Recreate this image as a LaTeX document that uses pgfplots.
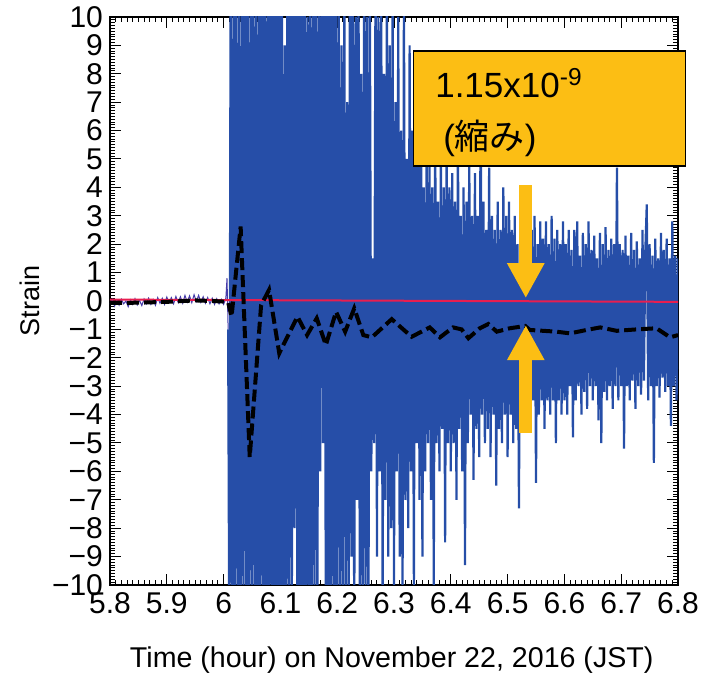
\documentclass[border=0pt]{standalone}
\usepackage{fontspec}
\setmainfont{Liberation Sans}
\newfontfamily\cjk{Noto Sans CJK JP}
\usepackage{pgfplots}
\pgfplotsset{compat=1.18}
\usetikzlibrary{calc,arrows.meta}
\definecolor{SigBlue}{RGB}{38,78,168}
\definecolor{PreBlue}{RGB}{70,60,170}
\definecolor{TideRed}{RGB}{232,30,80}
\definecolor{NoteOrange}{RGB}{252,190,20}

\begin{document}
\begin{tikzpicture}
\begin{axis}[
    scale only axis,
    width=284pt, height=284pt,
    xmin=5.8, xmax=6.8, ymin=-10, ymax=10,
    xtick={5.8,5.9,6.0,6.1,6.2,6.3,6.4,6.5,6.6,6.7,6.8},
    xticklabels={5.8,5.9,6,6.1,6.2,6.3,6.4,6.5,6.6,6.7,6.8},
    ytick={-10,-9,-8,-7,-6,-5,-4,-3,-2,-1,0,1,2,3,4,5,6,7,8,9,10},
    yticklabels={−10,−9,−8,−7,−6,−5,−4,−3,−2,−1,0,1,2,3,4,5,6,7,8,9,10},
    minor x tick num=9, minor y tick num=9,
    tick align=inside,
    major tick length=5.5pt, minor tick length=2.5pt,
    tick style={black, line width=0.5pt},
    axis line style={line width=0.6pt},
    ticklabel style={font=\fontsize{15}{15}\selectfont},
    xlabel={Time (hour) on November 22, 2016 (JST)},
    ylabel={Strain},
    xlabel style={font=\fontsize{14.3}{15}\selectfont, at={(axis description cs:0.496,-0.132)}, anchor=center},
    ylabel style={font=\fontsize{13.5}{15}\selectfont, at={(axis description cs:-0.141,0.5)}, anchor=center},
]
% observed strain, before the quake
\addplot[PreBlue, line width=0.5pt] coordinates {
(5.800,-0.12) (5.804,0.05) (5.808,-0.18) (5.812,0.02) (5.816,-0.15) (5.820,0.06) (5.824,-0.1) (5.828,0.0)
(5.832,-0.2) (5.836,0.04) (5.840,-0.12) (5.844,0.08) (5.848,-0.14) (5.852,0.02) (5.856,-0.16) (5.860,0.07)
(5.864,-0.1) (5.868,0.1) (5.872,-0.12) (5.876,0.05) (5.880,-0.15) (5.884,0.12) (5.888,-0.08) (5.892,0.1)
(5.896,-0.12) (5.900,0.14) (5.904,-0.06) (5.908,0.12) (5.912,-0.1) (5.916,0.16) (5.920,-0.05) (5.924,0.15)
(5.928,-0.08) (5.932,0.2) (5.936,-0.04) (5.940,0.18) (5.944,-0.06) (5.948,0.22) (5.952,-0.02) (5.956,0.2)
(5.960,-0.05) (5.964,0.15) (5.968,-0.08) (5.972,0.12) (5.976,-0.1) (5.980,0.1) (5.984,-0.12) (5.988,0.08)
(5.992,-0.1) (5.996,0.06) (6.000,-0.12) (6.004,0.1) (6.006,0.8) (6.008,-1.0)
};
% observed strain, after the quake
\addplot[SigBlue, line width=1.1pt, line join=bevel] coordinates {
(6.008,-1.0)
(6.0100,-12) (6.0125,13) (6.0150,-14) (6.0175,12) (6.0200,-13) (6.0225,14) (6.0250,-12) (6.0275,11)
(6.0300,-14) (6.0325,13) (6.0350,-12) (6.0375,15) (6.0400,-13) (6.0425,12) (6.0450,-14) (6.0475,13)
(6.0500,-12) (6.0525,14) (6.0550,-13) (6.0575,12) (6.0600,-15) (6.0625,13) (6.0650,-12) (6.0675,14)
(6.0700,-13) (6.0725,12) (6.0750,-14) (6.0775,13) (6.0800,-12) (6.0825,15) (6.0850,-13) (6.0875,12)
(6.0900,-14) (6.0925,13) (6.0950,-12) (6.0975,14) (6.1000,-13)
(6.1025,12) (6.1050,-14) (6.1075,9) (6.1100,-13) (6.1125,13) (6.1150,-11) (6.1175,14) (6.1200,-12)
(6.1225,12) (6.1250,-8) (6.1275,13) (6.1300,-13) (6.1325,11) (6.1350,-14) (6.1375,14) (6.1400,-12)
(6.1425,12) (6.1450,-13) (6.1475,10) (6.1500,-12) (6.1525,13) (6.1550,-14) (6.1575,12) (6.1600,-11)
(6.1625,14) (6.1650,-13) (6.1675,12) (6.1700,-6) (6.1725,13) (6.1750,-5) (6.1775,11) (6.1800,-12)
(6.1825,13) (6.1850,-14) (6.1875,12) (6.1900,-12) (6.1925,14) (6.1950,-13) (6.1975,11) (6.2000,-12)
(6.2025,12) (6.2050,-11) (6.2075,9) (6.2100,-13) (6.2125,12) (6.2150,-10) (6.2175,7) (6.2200,-12)
(6.2225,13) (6.2250,-9) (6.2275,11) (6.2300,-12) (6.2325,10) (6.2350,-7) (6.2375,12) (6.2400,-13)
(6.2425,8) (6.2450,-11) (6.2475,13) (6.2500,-10) (6.2525,10) (6.2550,-12) (6.2575,11) (6.2600,-6)
(6.2625,1.5) (6.2650,-5) (6.2675,12) (6.2700,-9) (6.2725,10) (6.2750,-6) (6.2775,11) (6.2800,-11)
(6.2825,8) (6.2850,-7) (6.2875,12) (6.2900,-9) (6.2925,9) (6.2950,-8) (6.2975,11) (6.3000,-10)
(6.3025,7) (6.3050,-6) (6.3075,10) (6.3100,-9) (6.3125,6) (6.3150,-11) (6.3175,11) (6.3200,-7)
(6.3225,5) (6.3250,-8) (6.3275,9) (6.3300,-6) (6.3325,6) (6.3350,-10) (6.3375,8) (6.3400,-5)
(6.3425,5) (6.3450,-7) (6.3475,7) (6.3500,-9) (6.3525,4) (6.3550,-6) (6.3575,6) (6.3600,-5)
(6.3625,5) (6.3650,-7) (6.3675,4) (6.3700,-10) (6.3725,6) (6.3750,-5) (6.3775,3.5) (6.3800,-6)
(6.3825,5) (6.3850,-4.5) (6.3875,4) (6.3900,-8.5) (6.3925,5.5) (6.3950,-5) (6.3975,4) (6.4000,-6)
(6.4025,4.5) (6.4050,-5) (6.4075,3.5) (6.4100,-7) (6.4125,6) (6.4150,-4.5) (6.4175,3) (6.4200,-6)
(6.4225,4) (6.4250,-9.3) (6.4275,3.5) (6.4300,-5) (6.4325,5) (6.4350,-4) (6.4375,3) (6.4400,-6.3)
(6.4425,4.5) (6.4450,-4.5) (6.4475,3) (6.4500,-5.5) (6.4525,7) (6.4550,-4) (6.4575,3.5) (6.4600,-5)
(6.4625,2.5) (6.4650,-4.5) (6.4675,4.7) (6.4700,-5.5) (6.4725,3) (6.4750,-4) (6.4775,2.5) (6.4800,-6.5)
(6.4825,3.5) (6.4850,-4.5) (6.4875,2.5) (6.4900,-5) (6.4925,4) (6.4950,-4) (6.4975,3) (6.5000,-5.5)
(6.5025,3.5) (6.5050,-4) (6.5075,2.5) (6.5100,-5) (6.5125,3) (6.5150,-4.5) (6.5175,2) (6.5200,-7.3)
(6.5225,3.5) (6.5250,-4) (6.5275,2.5) (6.5300,-3.5) (6.5325,1.5) (6.5350,-4.5) (6.5375,3.7) (6.5400,-4)
(6.5425,2.5) (6.5450,-3.5) (6.5475,3) (6.5500,-6.4) (6.5525,2) (6.5550,-4) (6.5575,2.8) (6.5600,-3.5)
(6.5625,2.2) (6.5650,-4.5) (6.5675,2.8) (6.5700,-3.5) (6.5725,2) (6.5750,-4) (6.5775,3) (6.5800,-3.5)
(6.5825,2.2) (6.5850,-5) (6.5875,2.5) (6.5900,-3.5) (6.5925,2) (6.5950,-4) (6.5975,2.8) (6.6000,-3.5)
(6.6025,2) (6.6050,-4) (6.6075,2.5) (6.6100,-3) (6.6125,1.8) (6.6150,-4.8) (6.6175,2.5) (6.6200,-3.5)
(6.6225,2.8) (6.6250,-3) (6.6275,1.6) (6.6300,-4) (6.6325,2.4) (6.6350,-3.2) (6.6375,2) (6.6400,-3.8)
(6.6425,2.8) (6.6450,-3) (6.6475,1.8) (6.6500,-3.5) (6.6525,2.3) (6.6550,-3) (6.6575,1.5) (6.6600,-4.2)
(6.6625,2.4) (6.6650,-5) (6.6675,2) (6.6700,-3.2) (6.6725,2.6) (6.6750,-3.5) (6.6775,1.8) (6.6800,-3)
(6.6825,2.2) (6.6850,-3.8) (6.6875,2) (6.6900,-3) (6.6925,4.7) (6.6950,-3.5) (6.6975,2) (6.7000,-3)
(6.7025,1.8) (6.7050,-5.2) (6.7075,2.3) (6.7100,-3) (6.7125,1.6) (6.7150,-3.5) (6.7175,2.4) (6.7200,-2.8)
(6.7225,1.8) (6.7250,-3.8) (6.7275,2.1) (6.7300,-3) (6.7325,1.5) (6.7350,-3.3) (6.7375,2.5) (6.7400,-2.8)
(6.7425,1.8) (6.7450,3.4) (6.7475,-3.5) (6.7500,2) (6.7525,-3) (6.7550,1.6) (6.7575,-5.7) (6.7600,2.2)
(6.7625,-3) (6.7650,1.5) (6.7675,-3.4) (6.7700,2.4) (6.7725,-2.7) (6.7750,1.8) (6.7775,-3.2) (6.7800,2.2)
(6.7825,-3) (6.7850,1.5) (6.7875,-4.4) (6.7900,2.8) (6.7925,-3) (6.7950,1.6) (6.7975,-3.5) (6.8000,1.5)
};
% tidal / reference line
\addplot[TideRed, line width=1pt] coordinates {(5.8,0.05) (6.8,-0.03)};
% filtered strain
\addplot[black, line width=2pt, dash pattern=on 6pt off 2.5pt] coordinates {
(5.800,-0.07) (5.850,-0.06) (5.900,-0.03) (5.950,0.02) (5.980,0.0) (6.000,-0.02) (6.008,-0.05)
(6.014,-0.55) (6.030,2.62) (6.046,-5.5) (6.066,-0.15) (6.080,0.39) (6.098,-1.84) (6.130,-0.55)
(6.147,-1.2) (6.164,-0.61) (6.180,-1.55) (6.198,-0.38) (6.214,-1.08) (6.230,-0.26) (6.246,-1.2)
(6.261,-1.28) (6.296,-0.64) (6.331,-1.26) (6.363,-0.93) (6.381,-1.28) (6.404,-0.93) (6.419,-1.0)
(6.431,-1.31) (6.451,-0.96) (6.466,-0.81) (6.481,-1.08) (6.504,-0.96) (6.531,-0.88) (6.539,-1.02)
(6.586,-1.08) (6.610,-1.14) (6.639,-1.02) (6.663,-0.93) (6.692,-1.05) (6.727,-1.0) (6.762,-0.96)
(6.786,-1.28) (6.800,-1.2)
};
\coordinate (boxSW) at (axis cs:6.334,4.75);
\coordinate (boxNE) at (axis cs:6.813,8.80);
\coordinate (lineA) at (axis cs:6.372,7.15);
\coordinate (lineB) at (axis cs:6.386,5.32);
\coordinate (downTop) at (axis cs:6.532,4.08);
\coordinate (downTip) at (axis cs:6.532,0.10);
\coordinate (upBot) at (axis cs:6.532,-4.65);
\coordinate (upTip) at (axis cs:6.532,-0.85);
\end{axis}
\draw[NoteOrange, line width=6.5pt, -{Triangle[length=17.5pt,width=17.5pt]}] (downTop) -- (downTip);
\draw[NoteOrange, line width=6.5pt, -{Triangle[length=17.5pt,width=17.5pt]}] (upBot) -- (upTip);
\draw[fill=NoteOrange, line width=0.6pt] (boxSW) rectangle (boxNE);
\node[anchor=base west, inner sep=0pt, font=\fontsize{17.5}{18}\selectfont] at (lineA) {1.15x10\textsuperscript{-9}};
\node[anchor=base west, inner sep=0pt, font=\fontsize{17.5}{18}\selectfont] at (lineB) {({\cjk 縮み})};
\pgfresetboundingbox
\path[use as bounding box] ($(current axis.south west)+(-55pt,-44.5pt)$) rectangle ($(current axis.north east)+(16.5pt,8.5pt)$);
\end{tikzpicture}
\end{document}
